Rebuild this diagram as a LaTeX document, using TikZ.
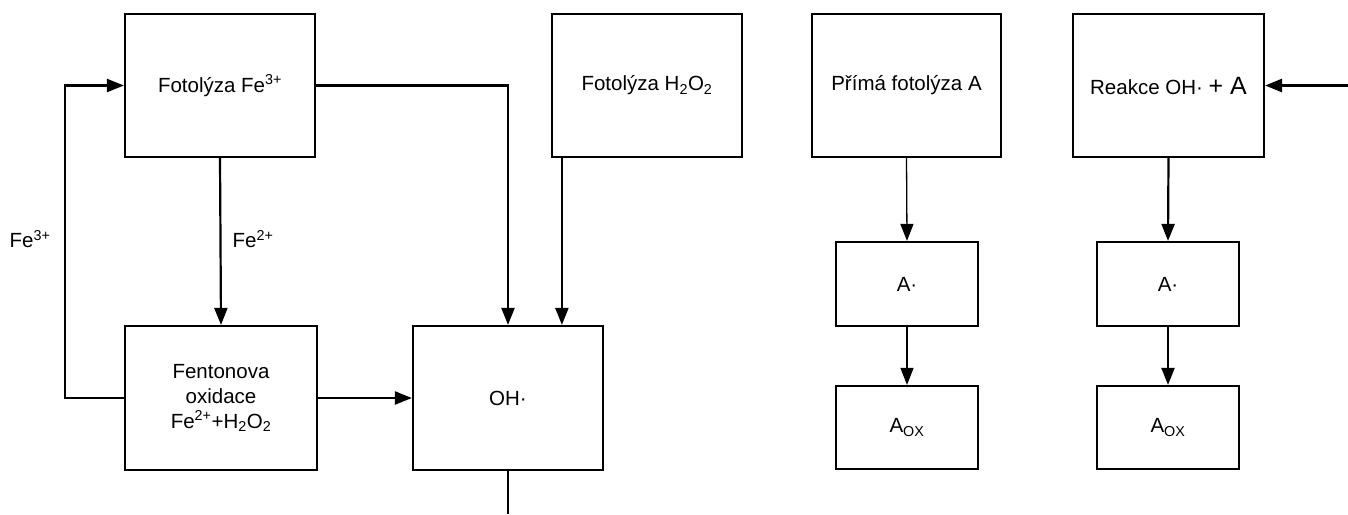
\documentclass[tikz,border=0pt]{standalone}
\usepackage{fontspec}
\setmainfont{Liberation Sans}
\usetikzlibrary{arrows.meta}
\begin{document}
\begin{tikzpicture}[x=1pt,y=-1pt,
  box/.style={draw,line width=2.2pt,inner sep=0pt,align=center,font=\fontsize{20.5}{25}\selectfont},
  lbl/.style={inner sep=0pt,font=\fontsize{20.5}{25}\selectfont},
  arr/.style={line width=2.2pt,-{Triangle[length=17pt,width=13pt]}},
  thinarr/.style={line width=1.3pt,-{Triangle[length=17pt,width=13pt]}},
  ln/.style={line width=2.2pt}]
\useasboundingbox (0,0) rectangle (1348,514);
\node[box,minimum width=190,minimum height=143] (f3) at (220,85.5) {Fotolýza Fe\textsuperscript{3+}};
\node[box,minimum width=190,minimum height=143] (h2o2) at (647,85.5) {Fotolýza H\textsubscript{2}O\textsubscript{2}};
\node[box,minimum width=189,minimum height=143] (prima) at (906.5,85.5) {Přímá fotolýza A};
\node[box,minimum width=191,minimum height=143] (reakce) at (1168.5,85.5) {Reakce OH· {\fontsize{25}{30}\selectfont + A}};
\node[box,minimum width=192,minimum height=144] (fenton) at (221,398) {Fentonova\\oxidace\\Fe\textsuperscript{2+}+H\textsubscript{2}O\textsubscript{2}};
\node[box,minimum width=190,minimum height=144] (oh) at (508,398) {OH·};
\node[box,minimum width=142,minimum height=84] (a1) at (907,284) {A·};
\node[box,minimum width=142,minimum height=83] (aox1) at (907,427.5) {A\textsubscript{OX}};
\node[box,minimum width=142,minimum height=84] (a2) at (1168,284) {A·};
\node[box,minimum width=142,minimum height=83] (aox2) at (1168,427.5) {A\textsubscript{OX}};
\node[lbl] (lfe3) at (30,239) {Fe\textsuperscript{3+}};
\node[lbl] (lfe2) at (253,239) {Fe\textsuperscript{2+}};
\coordinate (loop) at (65,398);
\coordinate (bottom) at (508,514);
\coordinate (rin) at (1348,85.5);
\draw[arr] (f3.south) -- (fenton.north);
\draw[arr] (fenton.west) -- (loop) |- (f3.west);
\draw[arr] (f3.east) -| (oh.north);
\draw[arr] ([xshift=11pt]h2o2.south west) -- ([xshift=11pt]h2o2.south west |- oh.north);
\draw[arr] (fenton.east) -- (oh.west);
\draw[ln] (oh.south) -- (bottom);
\draw[thinarr] (prima.south) -- (a1.north);
\draw[thinarr] (a1.south) -- (aox1.north);
\draw[arr] (reakce.south) -- (a2.north);
\draw[arr] (a2.south) -- (aox2.north);
\draw[arr,line width=2.8pt] (rin) -- (reakce.east);
\end{tikzpicture}
\end{document}
